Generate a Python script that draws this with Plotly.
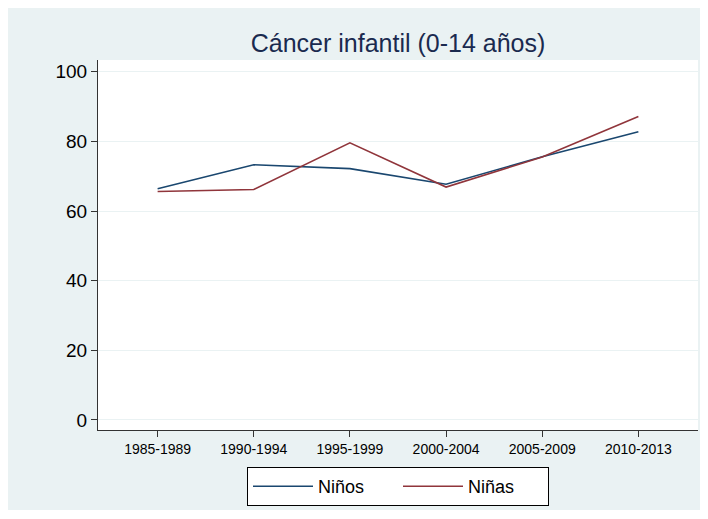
import plotly.graph_objects as go

# periodos y tasas
periodos = ['1985-1989', '1990-1994', '1995-1999', '2000-2004', '2005-2009', '2010-2013']
ninos = [66.4, 73.3, 72.2, 67.7, 75.6, 82.8]
ninas = [65.6, 66.2, 79.6, 66.9, 75.5, 87.2]

bg = '#EAF2F3'
font = 'Arial, Liberation Sans, sans-serif'

fig = go.Figure()
fig.add_trace(go.Scatter(x=periodos, y=ninos, mode='lines', name='Niños',
                         line=dict(color='#1a476f', width=1.6)))
fig.add_trace(go.Scatter(x=periodos, y=ninas, mode='lines', name='Niñas',
                         line=dict(color='#90353b', width=1.6)))

# la pagina deja 8px de margen blanco, que hace de borde exterior
W, H = 700, 502
L, R, T, B = 90, 10, 52, 80
ph = H - T - B

fig.update_layout(
    width=W, height=H,
    margin=dict(l=L, r=R, t=T, b=B, autoexpand=False),
    paper_bgcolor=bg, plot_bgcolor='white',
    font=dict(family=font, color='black'),
    title=dict(text='Cáncer infantil (0-14 años)', x=0.5, xref='paper', xanchor='center',
               y=1 - 35 / H, yref='container', yanchor='middle',
               font=dict(size=25, color='#1a2a4f')),
    showlegend=True,
    legend=dict(orientation='h', x=0.5, xanchor='center', y=-37 / ph, yanchor='top',
                bgcolor='white', bordercolor='black', borderwidth=1,
                font=dict(size=18), itemwidth=60,
                entrywidth=75, entrywidthmode='pixels'),
)
fig.update_xaxes(range=[-0.62, 5.62], showgrid=False, showline=True, linecolor='#333333',
                 linewidth=1, ticks='outside', ticklen=6, tickcolor='#333333',
                 tickfont=dict(size=14), zeroline=False, automargin=False)
fig.update_yaxes(range=[-2.9, 103.4], tickvals=[0, 20, 40, 60, 80, 100], showgrid=True,
                 gridcolor=bg, gridwidth=1, showline=True, linecolor='#333333', linewidth=1,
                 ticks='outside', ticklen=6, tickcolor='#333333', tickfont=dict(size=19),
                 zeroline=False, automargin=False)

fig.write_html('out.html')
